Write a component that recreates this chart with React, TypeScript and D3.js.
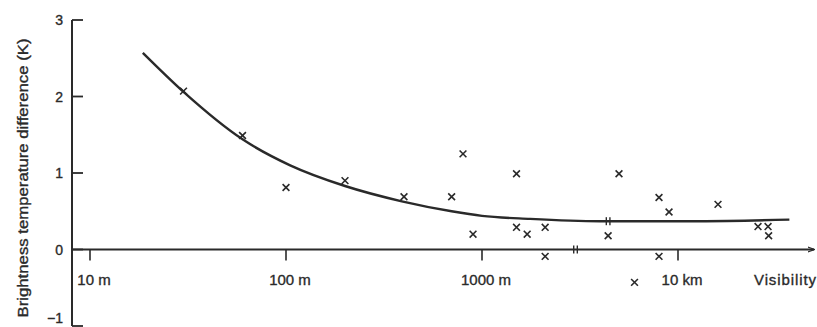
import React from "react";
import * as d3 from "d3";

// observed points (visibility in m, brightness temperature difference in K)
const obsVisibility = [30, 60, 100, 200, 400, 700, 800, 900, 1500, 1500, 1700, 2100, 2100, 4400, 5000, 6000, 8000, 8000, 9000, 16000, 25600, 28800, 29000];
const obsDiff = [2.07, 1.49, 0.81, 0.9, 0.69, 0.69, 1.25, 0.2, 0.99, 0.29, 0.2, 0.29, -0.09, 0.18, 0.99, -0.43, 0.68, -0.09, 0.49, 0.59, 0.3, 0.3, 0.18];

// points that sit right on a line, drawn as double ticks
const onLineVisibility = [3000, 4400];
const onLineDiff = [0, 0.37];

// fitted curve
const curveVisibility = [18.6, 30, 60, 105, 200, 390, 700, 1000, 1760, 4000, 12900, 37000];
const curveDiff = [2.57, 2.06, 1.44, 1.1, 0.83, 0.63, 0.5, 0.44, 0.4, 0.37, 0.37, 0.39];

const xTicks = [10, 100, 1000, 10000];
const xTickLabels = ["10 m", "100 m", "1000 m", "10 km"];
const yTicks = [3, 2, 1, 0, -1];
const yTickLabels = ["3", "2", "1", "0", "\u22121"];

const W = 817;
const H = 327;
const ink = "#2a2a2a";
const font = "'Liberation Sans', Arial, sans-serif";

export default function App() {
  const x = d3.scaleLog().domain([10, 10000]).range([90, 678]);
  const y = d3.scaleLinear().domain([-1, 3]).range([326, 20]);
  const axisX = 72;
  const y0 = y(0);

  const curvePts: [number, number][] = curveVisibility.map((v, i) => [v, curveDiff[i]]);
  const line = d3
    .line<[number, number]>()
    .x((d) => x(d[0]))
    .y((d) => y(d[1]))
    .curve(d3.curveMonotoneX);

  const cross = (cx: number, cy: number, s = 3.4) =>
    `M${cx - s},${cy - s}L${cx + s},${cy + s}M${cx - s},${cy + s}L${cx + s},${cy - s}`;

  const textStyle = { fill: ink, stroke: ink, strokeWidth: 0.35 };

  return (
    <svg
      width={W}
      height={H}
      style={{ position: "absolute", left: 0, top: 0, background: "#fff" }}
      fontFamily={font}
    >
      <defs>
        <marker id="arrow" viewBox="0 0 10 10" refX="9" refY="5" markerWidth="7" markerHeight="7" orient="auto" markerUnits="userSpaceOnUse">
          <path d="M0,1.5L10,5L0,8.5" fill="none" stroke={ink} strokeWidth={1.6} />
        </marker>
      </defs>

      {/* y axis */}
      <line x1={axisX} x2={axisX} y1={y(3)} y2={y(-1)} stroke={ink} strokeWidth={2} />
      {yTicks.map((t, i) => (
        <g key={t}>
          <line x1={axisX} x2={axisX + 11} y1={y(t)} y2={y(t)} stroke={ink} strokeWidth={1.8} />
          <text
            x={63}
            y={Math.min(y(t), H - 9)}
            dy="0.36em"
            textAnchor="end"
            fontSize={14}
            style={textStyle}
          >
            {yTickLabels[i]}
          </text>
        </g>
      ))}
      <text
        transform={`translate(24,${178}) rotate(-90)`}
        textAnchor="middle"
        dominantBaseline="middle"
        fontSize={14.5}
        style={textStyle}
        textLength={279}
        lengthAdjust="spacingAndGlyphs"
      >
        Brightness temperature difference (K)
      </text>

      {/* x axis */}
      <line x1={axisX} x2={W - 3} y1={y0} y2={y0} stroke={ink} strokeWidth={2} markerEnd="url(#arrow)" />
      {xTicks.map((t, i) => (
        <g key={t}>
          <line x1={x(t)} x2={x(t)} y1={y0} y2={y0 + 11} stroke={ink} strokeWidth={1.6} />
          <text x={x(t) + 4} y={285} textAnchor="middle" fontSize={15} style={textStyle}>
            {xTickLabels[i]}
          </text>
        </g>
      ))}
      <text x={785} y={285} textAnchor="middle" fontSize={15} style={textStyle} textLength={62}>
        Visibility
      </text>

      {/* fitted curve */}
      <path d={line(curvePts) ?? ""} fill="none" stroke={ink} strokeWidth={2.4} />

      {/* observations */}
      {obsVisibility.map((v, i) => (
        <path key={i} d={cross(x(v), y(obsDiff[i]))} stroke={ink} strokeWidth={1.6} fill="none" />
      ))}
      {onLineVisibility.map((v, i) => (
        <g key={`on${i}`} stroke={ink} strokeWidth={1.4}>
          <line x1={x(v) - 1.8} x2={x(v) - 1.8} y1={y(onLineDiff[i]) - 4} y2={y(onLineDiff[i]) + 4} />
          <line x1={x(v) + 1.8} x2={x(v) + 1.8} y1={y(onLineDiff[i]) - 4} y2={y(onLineDiff[i]) + 4} />
        </g>
      ))}
    </svg>
  );
}
